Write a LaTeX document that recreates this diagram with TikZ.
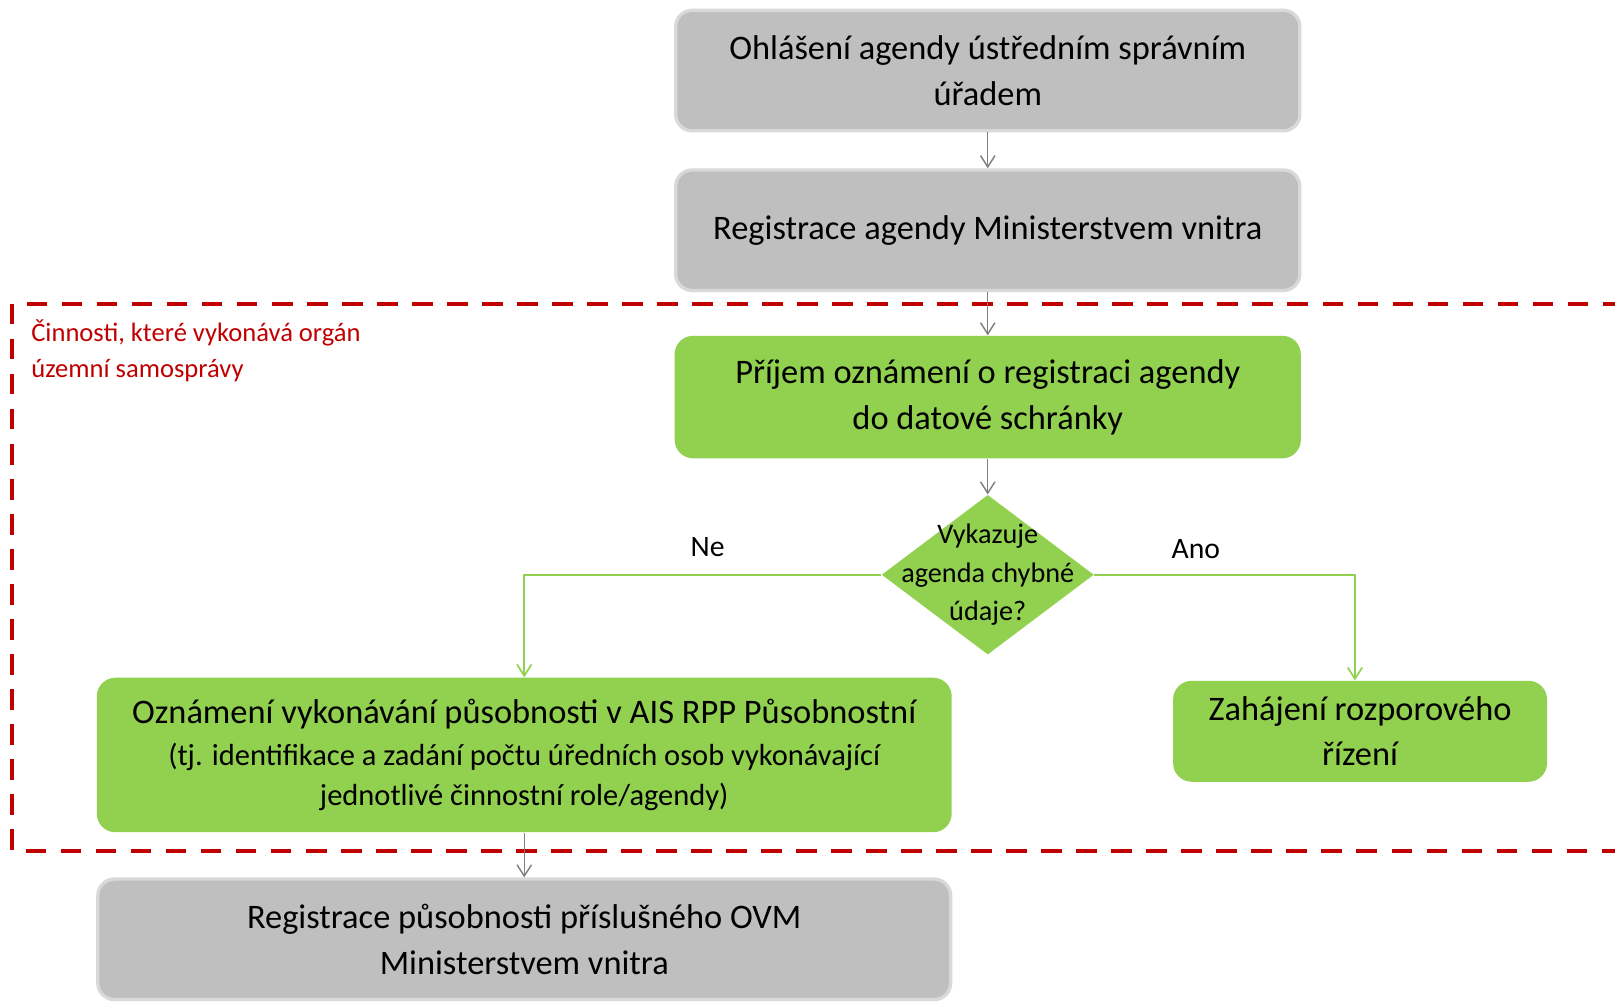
\documentclass[tikz,border=0pt]{standalone}
\usepackage{fontspec}
\setmainfont{Carlito}
\usetikzlibrary{arrows.meta,shapes.geometric}
\definecolor{boxgray}{HTML}{BFBFBF}
\definecolor{edgegray}{HTML}{D9D9D9}
\definecolor{flowgreen}{HTML}{92D050}
\definecolor{linkgray}{HTML}{7F7F7F}
\definecolor{zonered}{HTML}{C00000}

\begin{document}
\begin{tikzpicture}[x=0.5pt,y=-0.5pt,
  mainfont/.style={font=\fontsize{16.7}{22.2}\selectfont},
  graybox/.style={draw=edgegray, line width=1.6pt, fill=boxgray,
    rounded corners=8pt, align=center, inner sep=0pt, mainfont},
  greenbox/.style={fill=flowgreen, rounded corners=9pt, align=center,
    inner sep=0pt, mainfont},
  decision/.style={diamond, fill=flowgreen, inner sep=0pt,
    minimum width=103pt, minimum height=77.5pt},
  graylink/.style={draw=linkgray, line width=0.7pt,
    -{Straight Barb[length=5.5pt,width=7pt]}},
  greenlink/.style={draw=flowgreen, line width=0.8pt,
    -{Straight Barb[length=5.5pt,width=7pt]}},
  zone/.style={draw=zonered, line width=2pt, dash pattern=on 10pt off 7pt},
  branchlabel/.style={font=\fontsize{14.4}{18}\selectfont}
]
\clip (0,0) rectangle (1568,972);
\fill[white] (0,0) rectangle (1568,972);

% area handled by the self-governing body
\draw[zone] (12,295) rectangle (1640,826);
\node[text=zonered, anchor=west, align=left, inner xsep=0pt,
      font=\fontsize{12.9}{17.5}\selectfont] (zonelabel) at (30,341)
  {Činnosti, které vykonává orgán\\územní samosprávy};

% process steps
\node[graybox, minimum width=303pt, minimum height=58.5pt] (b1) at (959,68.5)
  {Ohlášení agendy ústředním správním\\úřadem};
\node[graybox, minimum width=303pt, minimum height=58.5pt] (b2) at (959,223.5)
  {Registrace agendy Ministerstvem vnitra};
\node[greenbox, minimum width=304pt, minimum height=59.5pt] (b3) at (959,385.5)
  {Příjem oznámení o registraci agendy\\do datové schránky};

\node[decision] (dec) at (959,558) {};
\node[align=center, font=\fontsize{13.7}{18.7}\selectfont] (dectext) at (dec)
  {Vykazuje\\agenda chybné\\údaje?};

\node[greenbox, minimum width=415pt, minimum height=75pt,
      font=\fontsize{14.8}{19.6}\selectfont] (b4) at (509,733)
  {{\fontsize{16.7}{22.2}\selectfont Oznámení vykonávání působnosti v AIS RPP Působnostní}\\[0.5pt]
   (tj. identifikace a zadání počtu úředních osob vykonávající\\
   jednotlivé činnostní role/agendy)};
\node[greenbox, minimum width=181.5pt, minimum height=49pt] (b5) at (1320.5,710)
  {Zahájení rozporového\\řízení};
\node[graybox, minimum width=414pt, minimum height=58.5pt] (b6) at (509,912)
  {Registrace působnosti příslušného OVM\\Ministerstvem vnitra};

% connectors
\draw[graylink] (b1) -- (b2);
\draw[graylink] (b2) -- (b3);
\draw[graylink] (b3) -- (dec);
\draw[greenlink] (dec.west) -| (b4.north);
\draw[greenlink] (dec.east) -| ([xshift=-2.5pt]b5.north);
\draw[graylink] (b4) -- (b6);

\node[branchlabel] (ne) at (687,531) {Ne};
\node[branchlabel] (ano) at (1161,533) {Ano};
\end{tikzpicture}
\end{document}
